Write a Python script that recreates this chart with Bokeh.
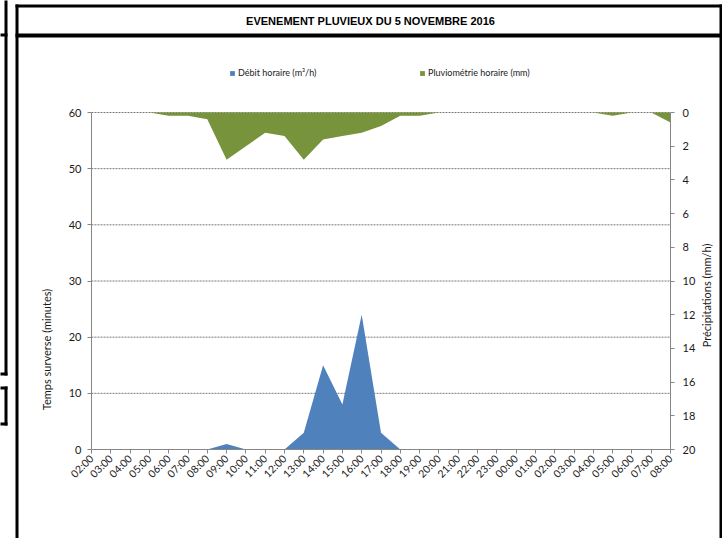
import math
from bokeh.plotting import figure
from bokeh.models import (ColumnDataSource, Range1d, LinearAxis, FixedTicker,
                          Legend, LegendItem, Label, BoxAnnotation)
from bokeh.embed import file_html
from bokeh.resources import INLINE

# ---------------- data ----------------
hours = ["02:00", "03:00", "04:00", "05:00", "06:00", "07:00", "08:00", "09:00",
         "10:00", "11:00", "12:00", "13:00", "14:00", "15:00", "16:00", "17:00",
         "18:00", "19:00", "20:00", "21:00", "22:00", "23:00", "00:00", "01:00",
         "02:00", "03:00", "04:00", "05:00", "06:00", "07:00", "08:00"]
debit = [0, 0, 0, 0, 0, 0, 0, 1, 0, 0, 0, 3, 15, 8, 24, 3,
         0, 0, 0, 0, 0, 0, 0, 0, 0, 0, 0, 0, 0, 0, 0]
pluie = [0, 0, 0, 0, 0.2, 0.2, 0.4, 2.8, 2.0, 1.2, 1.4, 2.8, 1.6, 1.4, 1.2, 0.8,
         0.2, 0.2, 0, 0, 0, 0, 0, 0, 0, 0, 0, 0.2, 0, 0, 0.6]
left_ticks = [0, 10, 20, 30, 40, 50, 60]
right_ticks = [0, 2, 4, 6, 8, 10, 12, 14, 16, 18, 20]

title_text = "EVENEMENT PLUVIEUX DU 5 NOVEMBRE 2016"
label_debit = "Débit horaire (m³/h)"
label_pluie = "Pluviométrie horaire (mm)"
ylabel_left = "Temps surverse (minutes)"
ylabel_right = "Précipitations (mm/h)"

# ---------------- layout ----------------
W, H = 722, 538
FL, FR, FT, FB = 91, 670, 112, 449          # plot area in pixels
XMAX = len(hours) - 1
YMAX = left_ticks[-1]
RMAX = right_ticks[-1]

BLUE = "#4F81BD"
GREEN = "#77933C"
AXIS_GRAY = "#868686"
TXT = "#1a1a1a"
FONT = "Lato"


def xd(px):
    return (px - FL) / (FR - FL) * XMAX


def yd(py):
    return (FB - py) / (FB - FT) * YMAX


def rd(py):
    return (py - FT) / (FB - FT) * RMAX


src = ColumnDataSource(dict(x=list(range(len(hours))), debit=debit, pluie=pluie))
grid_src = ColumnDataSource(dict(y=left_ticks[1:]))

p = figure(width=W, height=H, output_backend="svg", toolbar_location=None,
           x_range=Range1d(xd(0), xd(W)), y_range=Range1d(yd(H), yd(0)),
           x_axis_type=None, y_axis_type=None,
           min_border_left=0, min_border_right=0,
           min_border_top=0, min_border_bottom=0)
p.styles = {"position": "absolute", "left": "0px", "top": "0px"}
p.extra_y_ranges = {"pluie": Range1d(rd(H), rd(0))}
p.outline_line_color = None
p.background_fill_color = "white"
p.border_fill_color = "white"

# dotted horizontal grid over the plot area
p.segment(x0=0, x1=XMAX, y0="y", y1="y", source=grid_src,
          line_color="#7a7a7a", line_dash="2 1", line_width=1)

# areas
r_pluie = p.varea(x="x", y1=0, y2="pluie", source=src, fill_color=GREEN,
                  y_range_name="pluie")
r_debit = p.varea(x="x", y1=0, y2="debit", source=src, fill_color=BLUE)

# axes
yax = LinearAxis(ticker=FixedTicker(ticks=left_ticks), fixed_location=0,
                 bounds=(0, YMAX))
yax_r = LinearAxis(ticker=FixedTicker(ticks=right_ticks), y_range_name="pluie",
                   fixed_location=XMAX, bounds=(0, RMAX))
xax = LinearAxis(ticker=FixedTicker(ticks=list(range(len(hours)))),
                 major_label_overrides={i: h for i, h in enumerate(hours)},
                 major_label_orientation=math.pi / 4, fixed_location=0,
                 bounds=(0, XMAX))
for ax in (yax, yax_r, xax):
    ax.axis_line_color = AXIS_GRAY
    ax.major_tick_line_color = AXIS_GRAY
    ax.minor_tick_line_color = None
    ax.major_tick_in = 0
    ax.major_tick_out = 4
    ax.major_label_text_font = FONT
    ax.major_label_text_color = TXT
    ax.major_label_text_font_size = "11px"
    ax.major_label_standoff = 6
yax_r.major_label_standoff = 8
xax.major_label_text_font_size = "10.5px"
xax.major_label_standoff = 3
p.add_layout(yax, "left")
p.add_layout(yax_r, "right")
p.add_layout(xax, "below")

# legends
for label, rend, lx in ((label_debit, r_debit, 229), (label_pluie, r_pluie, 419)):
    leg = Legend(items=[LegendItem(label=label, renderers=[rend])],
                 location=(lx, H - 78), orientation="horizontal",
                 padding=0, margin=0, spacing=0, glyph_width=6, glyph_height=6,
                 label_height=6, label_standoff=3,
                 label_text_font=FONT, label_text_font_size="9px",
                 label_text_color=TXT,
                 border_line_color=None, background_fill_alpha=0)
    p.add_layout(leg)

# title and axis titles
p.add_layout(Label(x=xd(370), y=yd(20), text=title_text, text_align="center",
                   text_baseline="middle", text_font="Liberation Sans",
                   text_font_style="bold", text_font_size="11px", text_color="#000000"))
p.add_layout(Label(x=xd(46), y=yd(349), text=ylabel_left, angle=math.pi / 2,
                   text_align="center", text_baseline="middle", text_font=FONT,
                   text_font_size="11px", text_color=TXT))
p.add_layout(Label(x=xd(706), y=yd(295), text=ylabel_right, angle=math.pi / 2,
                   text_align="center", text_baseline="middle", text_font=FONT,
                   text_font_size="11px", text_color=TXT))

# black frame strokes of the surrounding sheet
bars = [
    (15, 722, 4, 7), (15, 18, 4, 560), (719, 722, 4, 560), (15, 722, 33, 37),
    (4, 7, -10, 375), (-10, 7, 33, 36), (-10, 7, 372, 375),
    (-10, 7, 386, 389), (4, 7, 386, 425), (-10, 7, 422, 425),
]
for x0, x1, y0, y1 in bars:
    p.add_layout(BoxAnnotation(left=xd(x0), right=xd(x1), top=yd(y0), bottom=yd(y1),
                               fill_color="black", fill_alpha=1, line_color=None,
                               level="overlay"))

open("out.html", "w").write(file_html(p, INLINE))
